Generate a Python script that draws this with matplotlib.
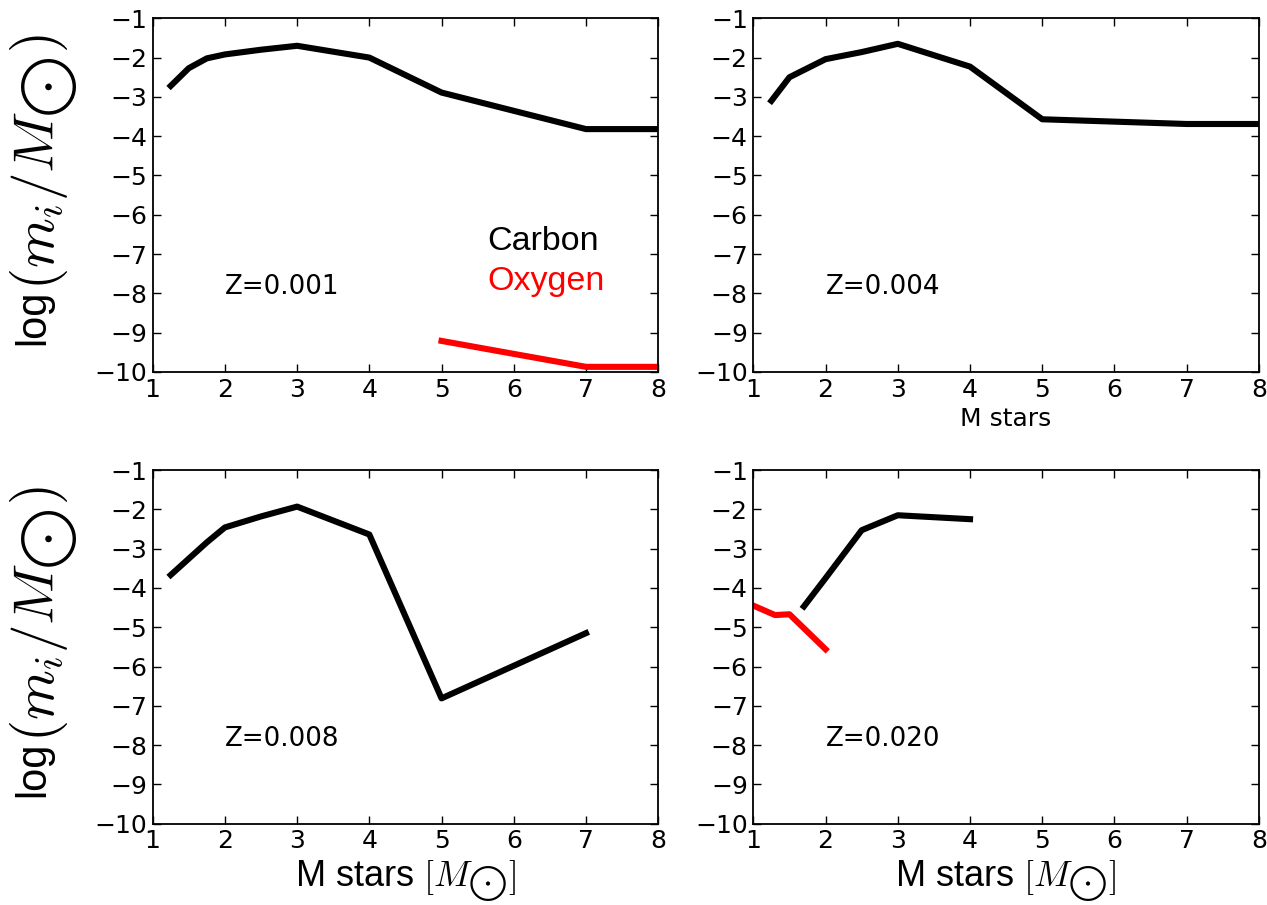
import matplotlib
matplotlib.use("Agg")
import matplotlib.pyplot as plt

plt.rcParams['mathtext.fontset'] = 'cm'
plt.rcParams['font.size'] = 18

# Z = 0.001
m_c_001 = [1.25, 1.5, 1.75, 2.0, 2.5, 3.0, 4.0, 5.0, 7.0, 8.0]
c_001 = [-2.72, -2.27, -2.02, -1.92, -1.80, -1.70, -2.00, -2.89, -3.82, -3.82]
m_o_001 = [5.0, 7.0, 8.0]
o_001 = [-9.21, -9.87, -9.87]

# Z = 0.004
m_c_004 = [1.25, 1.5, 2.0, 2.5, 3.0, 4.0, 5.0, 7.0, 8.0]
c_004 = [-3.10, -2.50, -2.04, -1.86, -1.65, -2.23, -3.57, -3.69, -3.69]

# Z = 0.008
m_c_008 = [1.25, 1.75, 2.0, 2.5, 3.0, 4.0, 5.0, 7.0]
c_008 = [-3.67, -2.84, -2.46, -2.18, -1.93, -2.64, -6.81, -5.15]

# Z = 0.020
m_c_020 = [1.7, 2.0, 2.5, 3.0, 4.0]
c_020 = [-4.47, -3.75, -2.53, -2.15, -2.25]
m_o_020 = [1.0, 1.3, 1.5, 2.0]
o_020 = [-4.45, -4.69, -4.67, -5.56]

z_labels = ["Z=0.001", "Z=0.004", "Z=0.008", "Z=0.020"]
xticks = [1, 2, 3, 4, 5, 6, 7, 8]
yticks = [-1, -2, -3, -4, -5, -6, -7, -8, -9, -10]

fig = plt.figure(figsize=(12.67, 9.05), dpi=100)
W = 0.399
H = 0.3908
pos = [(0.1205, 0.589), (0.5946, 0.589), (0.1205, 0.0898), (0.5946, 0.0898)]
axes = [fig.add_axes([x, y, W, H]) for x, y in pos]

lw = 4.4
axes[0].plot(m_c_001, c_001, color='black', lw=lw)
axes[0].plot(m_o_001, o_001, color='red', lw=lw)
axes[1].plot(m_c_004, c_004, color='black', lw=lw)
axes[2].plot(m_c_008, c_008, color='black', lw=lw)
axes[3].plot(m_c_020, c_020, color='black', lw=lw)
axes[3].plot(m_o_020, o_020, color='red', lw=lw)

for ax, zl in zip(axes, z_labels):
    ax.set_xlim(1, 8)
    ax.set_ylim(-10, -1)
    ax.set_xticks(xticks)
    ax.set_yticks(yticks)
    ax.tick_params(direction='in', top=True, right=True, length=6, width=1, labelsize=18, pad=4)
    for s in ax.spines.values():
        s.set_linewidth(1.3)
    ax.text(2.0, -7.85, zl, ha='left', va='center', fontsize=18.8)

axes[0].text(5.63, -6.69, "Carbon", color='black', ha='left', va='center',
             fontsize=24.5, family='Liberation Sans')
axes[0].text(5.63, -7.71, "Oxygen", color='red', ha='left', va='center',
             fontsize=24.5, family='Liberation Sans')

for ax in (axes[0], axes[2]):
    # "log" part of the y label, then the math part (drawn larger) above it
    ax.text(-0.237, 0.075, "log", rotation=90, transform=ax.transAxes,
            ha='center', va='bottom', fontsize=30, family='Liberation Sans')
    ax.text(-0.215, 0.232, r"$(m_i/M_{\bigodot})$", rotation=90, transform=ax.transAxes,
            ha='center', va='bottom', fontsize=41)

axes[1].set_xlabel("M stars", fontsize=18, labelpad=4)
for ax in (axes[2], axes[3]):
    ax.set_xlabel(r"M stars $[M_{\bigodot}]$", fontsize=26, family='Liberation Sans', labelpad=4)

fig.savefig("out.png", dpi=100)
